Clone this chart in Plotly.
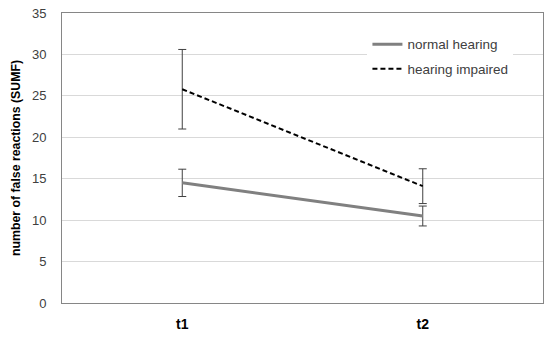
import plotly.graph_objects as go

categories = ["t1", "t2"]
normal_hearing = [14.5, 10.5]
normal_err = [1.65, 1.2]
hearing_impaired = [25.8, 14.1]
impaired_err = [4.8, 2.1]
y_ticks = [0, 5, 10, 15, 20, 25, 30, 35]

FONT = "Liberation Sans, Arial, sans-serif"

fig = go.Figure()
fig.add_trace(go.Scatter(
    x=categories, y=normal_hearing, name="normal hearing", mode="lines",
    legendgroup="a",
    line=dict(color="#808080", width=3),
    error_y=dict(type="data", array=normal_err, color="#404040", thickness=1, width=4),
))
fig.add_trace(go.Scatter(
    x=categories, y=hearing_impaired, name="hearing impaired", mode="lines",
    legendgroup="b",
    line=dict(color="#000000", width=2, dash="5px,3px"),
    error_y=dict(type="data", array=impaired_err, color="#404040", thickness=1, width=4),
))

fig.update_layout(
    width=550, height=338,
    margin=dict(l=62, r=7, t=13, b=35),
    paper_bgcolor="white", plot_bgcolor="white",
    font=dict(family=FONT, color="#404040"),
    showlegend=True,
    legend=dict(x=0.635, y=0.945, xanchor="left", yanchor="top",
                bgcolor="white", font=dict(size=13.5, color="#404040", family=FONT),
                itemwidth=30, tracegroupgap=4),
    xaxis=dict(type="category", range=[-0.5, 1.5], showgrid=False, automargin=False,
               tickfont=dict(size=14, color="#000000", family=FONT),
               tickprefix="<b>", ticksuffix="</b>",
               ticklabelstandoff=8,
               showline=True, linecolor="#868686", linewidth=1, mirror=True),
    yaxis=dict(range=[0, 35], tickvals=y_ticks, gridcolor="#d9d9d9", gridwidth=1,
               automargin=False,
               tickfont=dict(size=13, color="#404040", family=FONT),
               ticklabelstandoff=12,
               showline=True, linecolor="#868686", linewidth=1, mirror=True,
               zeroline=False,
               title=dict(text="<b>number of false reactions (SUMF)</b>",
                          font=dict(size=12.3, color="#000000", family=FONT), standoff=8)),
)

fig.write_html("out.html", config={"displayModeBar": False},
               post_script="document.body.style.margin='0';")
